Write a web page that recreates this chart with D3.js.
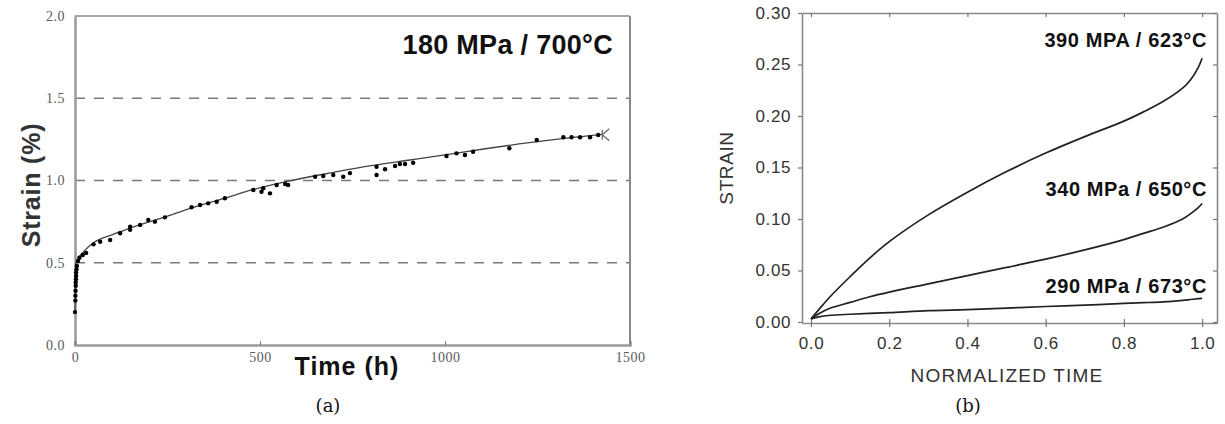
<!DOCTYPE html>
<html>
<head>
<meta charset="utf-8">
<script src="https://cdn.jsdelivr.net/npm/d3@7"></script>
<style>
  html, body { margin: 0; padding: 0; background: #fff; }
  svg { display: block; }
</style>
</head>
<body>
<svg id="chart" width="1225" height="424"></svg>
<script>
// ---------- Panel (a) data ----------
const aTitle = "180 MPa / 700°C";
const aXTicks = [0, 500, 1000, 1500];
const aYTicks = [0, 0.5, 1.0, 1.5, 2.0];
const aGrid = [0.5, 1.0, 1.5];
// measured creep points (time h, strain %)
const creepTime = [0, 1, 1, 1.5, 2, 2, 2.5, 3, 3, 4, 5, 8, 12,
  21, 30, 50, 68, 95, 122, 149, 149, 176, 198, 216, 243,
  315, 338, 360, 383, 405, 482, 504, 509, 527, 545, 568,
  576, 649, 671, 698, 725, 743, 815, 815, 838, 865, 878, 892, 914,
  1004, 1031, 1054, 1076, 1174, 1248, 1320, 1342, 1365, 1392, 1414];
const creepStrain = [0.2, 0.27, 0.3, 0.33, 0.36, 0.38, 0.4, 0.42, 0.44, 0.46, 0.48, 0.51, 0.53,
  0.547, 0.56, 0.612, 0.628, 0.638, 0.679, 0.719, 0.70, 0.73, 0.76, 0.75, 0.776,
  0.837, 0.851, 0.861, 0.871, 0.892, 0.942, 0.932, 0.953, 0.922, 0.973, 0.979,
  0.973, 1.023, 1.027, 1.033, 1.023, 1.045, 1.084, 1.033, 1.068, 1.088, 1.10, 1.10, 1.108,
  1.149, 1.165, 1.155, 1.175, 1.196, 1.246, 1.263, 1.263, 1.263, 1.263, 1.277];
// fitted curve
const fitTime = [0, 1, 3, 10, 22, 50, 100, 140, 200, 250, 320, 410, 480, 580, 700, 800, 900, 1000, 1100, 1200, 1300, 1425];
const fitStrain = [0.2, 0.42, 0.5, 0.53, 0.565, 0.622, 0.67, 0.703, 0.748, 0.783, 0.836, 0.896, 0.944, 0.998, 1.05, 1.09, 1.123, 1.156, 1.19, 1.222, 1.25, 1.28];
const ruptureTime = 1425, ruptureStrain = 1.278;

// ---------- Panel (b) data ----------
const bXTicks = [0, 0.2, 0.4, 0.6, 0.8, 1.0];
const bYTicks = [0, 0.05, 0.10, 0.15, 0.20, 0.25, 0.30];
const normTime = [0, 0.02, 0.05, 0.1, 0.15, 0.2, 0.3, 0.4, 0.5, 0.6, 0.7, 0.8, 0.85, 0.9, 0.95, 0.97, 0.99, 1.0];
const strain390 = [0.003, 0.012, 0.025, 0.044, 0.062, 0.078, 0.104, 0.126, 0.146, 0.164, 0.180, 0.195, 0.204, 0.214, 0.227, 0.235, 0.247, 0.256];
const strain340 = [0.003, 0.008, 0.0135, 0.019, 0.0245, 0.029, 0.037, 0.045, 0.053, 0.061, 0.070, 0.080, 0.086, 0.092, 0.100, 0.105, 0.111, 0.115];
const strain290 = [0.003, 0.005, 0.0065, 0.0075, 0.0083, 0.009, 0.011, 0.012, 0.0135, 0.015, 0.0163, 0.018, 0.0187, 0.0195, 0.021, 0.0218, 0.0226, 0.023];
const bLabels = ["390 MPA / 623°C", "340 MPa / 650°C", "290 MPa / 673°C"];

const svg = d3.select("#chart");

// ================= Panel (a) =================
const xA = d3.scaleLinear().domain([0, 1500]).range([75, 630]);
const yA = d3.scaleLinear().domain([0, 2]).range([345, 16]);
const gA = svg.append("g");

// dashed grid
gA.selectAll("line.grid").data(aGrid).join("line")
  .attr("x1", xA(0)).attr("x2", xA(1500))
  .attr("y1", d => yA(d)).attr("y2", d => yA(d))
  .attr("stroke", "#7a7a7a").attr("stroke-width", 1.5)
  .attr("stroke-dasharray", "10,9");

// frame
gA.append("line").attr("x1", xA(0)).attr("x2", xA(1500)).attr("y1", yA(2)).attr("y2", yA(2))
  .attr("stroke", "#8a8a8a").attr("stroke-width", 1.5);
gA.append("line").attr("x1", xA(1500)).attr("x2", xA(1500)).attr("y1", yA(2)).attr("y2", yA(0))
  .attr("stroke", "#8a8a8a").attr("stroke-width", 2);

// axes
const axA_y = d3.axisLeft(yA).tickValues(aYTicks).tickSize(0).tickPadding(10).tickFormat(d3.format(".1f"));
const axA_x = d3.axisBottom(xA).tickValues(aXTicks).tickSize(-4).tickPadding(7).tickFormat(d3.format("d"));
const gAy = gA.append("g").attr("transform", `translate(${xA(0)},0)`).call(axA_y);
const gAx = gA.append("g").attr("transform", `translate(0,${yA(0)})`).call(axA_x);
[gAy, gAx].forEach(g => {
  g.select(".domain").attr("stroke", "#999").attr("stroke-width", 2.5);
  g.selectAll(".tick line").attr("stroke", "#777").attr("stroke-width", 1);
  g.selectAll(".tick text").attr("fill", "#5a5a5a")
    .style("font-family", "'Liberation Serif', 'Times New Roman', serif")
    .style("font-size", "14px").style("letter-spacing", "0.5px");
});

// fitted curve
const fitData = fitTime.map((t, i) => [t, fitStrain[i]]);
gA.append("path").datum(fitData)
  .attr("fill", "none").attr("stroke", "#444").attr("stroke-width", 1.3)
  .attr("d", d3.line().x(d => xA(d[0])).y(d => yA(d[1])).curve(d3.curveMonotoneX));

// data points
const ptData = creepTime.map((t, i) => [t, creepStrain[i]]);
gA.selectAll("circle.pt").data(ptData).join("circle")
  .attr("cx", d => xA(d[0])).attr("cy", d => yA(d[1])).attr("r", 2.2)
  .attr("fill", "#000");

// rupture mark
const rx = xA(ruptureTime), ry = yA(ruptureStrain);
gA.append("path")
  .attr("d", `M${rx},${ry - 5}L${rx},${ry + 5}M${rx + 7},${ry - 6}L${rx},${ry}L${rx + 7},${ry + 6}`)
  .attr("fill", "none").attr("stroke", "#666").attr("stroke-width", 1.2);

// texts
gA.append("text").attr("x", 613).attr("y", 54).attr("text-anchor", "end")
  .style("font-family", "'Liberation Sans', Arial, sans-serif").style("font-weight", "bold")
  .style("font-size", "27px").style("letter-spacing", "0.3px").attr("fill", "#111").text(aTitle);
gA.append("text").attr("transform", "translate(40,185) rotate(-90)").attr("text-anchor", "middle")
  .style("font-family", "'Liberation Sans', Arial, sans-serif").style("font-weight", "bold")
  .style("font-size", "25px").style("letter-spacing", "0.8px").attr("fill", "#333").text("Strain (%)");
gA.append("text").attr("x", 347).attr("y", 375).attr("text-anchor", "middle")
  .style("font-family", "'Liberation Sans', Arial, sans-serif").style("font-weight", "bold")
  .style("font-size", "25px").style("letter-spacing", "1px").attr("fill", "#111").text("Time (h)");
svg.append("text").attr("x", 328).attr("y", 412).attr("text-anchor", "middle")
  .style("font-family", "'DejaVu Serif', 'Liberation Serif', serif")
  .style("font-size", "18px").attr("fill", "#111").text("(a)");

// ================= Panel (b) =================
const xB = d3.scaleLinear().domain([-0.023, 1.038]).range([802, 1217]);
const yB = d3.scaleLinear().domain([-0.001, 0.30]).range([323, 13]);
const gB = svg.append("g");
const fontB = "'Liberation Sans', Arial, sans-serif";

const axB_left = d3.axisLeft(yB).tickValues(bYTicks).tickSize(4).tickSizeOuter(0).tickPadding(7).tickFormat(d3.format(".2f"));
const axB_bottom = d3.axisBottom(xB).tickValues(bXTicks).tickSize(4).tickSizeOuter(0).tickPadding(10).tickFormat(d3.format(".1f"));
const axB_top = d3.axisTop(xB).tickValues(bXTicks).tickSize(-4).tickSizeOuter(0).tickFormat("");
const axB_right = d3.axisRight(yB).tickValues(bYTicks).tickSize(-4).tickSizeOuter(0).tickFormat("");

const gBl = gB.append("g").attr("transform", `translate(${xB.range()[0]},0)`).call(axB_left);
const gBb = gB.append("g").attr("transform", `translate(0,${yB.range()[0]})`).call(axB_bottom);
const gBt = gB.append("g").attr("transform", `translate(0,${yB.range()[1]})`).call(axB_top);
const gBr = gB.append("g").attr("transform", `translate(${xB.range()[1]},0)`).call(axB_right);
gBb.selectAll(".tick line").attr("y1", -4).attr("y2", 4);
[gBl, gBb, gBt, gBr].forEach(g => {
  g.select(".domain").attr("stroke", "#8a8a8a").attr("stroke-width", 1.6);
  g.selectAll(".tick line").attr("stroke", "#777").attr("stroke-width", 1.2);
  g.selectAll(".tick text").attr("fill", "#333")
    .style("font-family", fontB).style("font-size", "17px").style("letter-spacing", "0.6px");
});

const lineB = d3.line().x(d => xB(d[0])).y(d => yB(d[1])).curve(d3.curveCatmullRom.alpha(0.5));
[strain390, strain340, strain290].forEach(s => {
  gB.append("path").datum(normTime.map((t, i) => [t, s[i]]))
    .attr("fill", "none").attr("stroke", "#222").attr("stroke-width", 1.7)
    .attr("d", lineB);
});

const labelBase = [47, 196, 293];
bLabels.forEach((lab, i) => {
  gB.append("text").attr("x", 1207).attr("y", labelBase[i]).attr("text-anchor", "end")
    .style("font-family", fontB).style("font-weight", "bold")
    .style("font-size", "20px").style("letter-spacing", "0.6px").attr("fill", "#111").text(lab);
});

gB.append("text").attr("transform", "translate(733,168) rotate(-90)").attr("text-anchor", "middle")
  .style("font-family", fontB).style("font-size", "19px").style("letter-spacing", "0.6px")
  .attr("fill", "#333").text("STRAIN");
gB.append("text").attr("x", 1007).attr("y", 382).attr("text-anchor", "middle")
  .style("font-family", fontB).style("font-size", "19px").style("letter-spacing", "1.2px")
  .attr("fill", "#333").text("NORMALIZED TIME");
svg.append("text").attr("x", 968).attr("y", 412).attr("text-anchor", "middle")
  .style("font-family", "'DejaVu Serif', 'Liberation Serif', serif")
  .style("font-size", "18px").attr("fill", "#111").text("(b)");
</script>
</body>
</html>
